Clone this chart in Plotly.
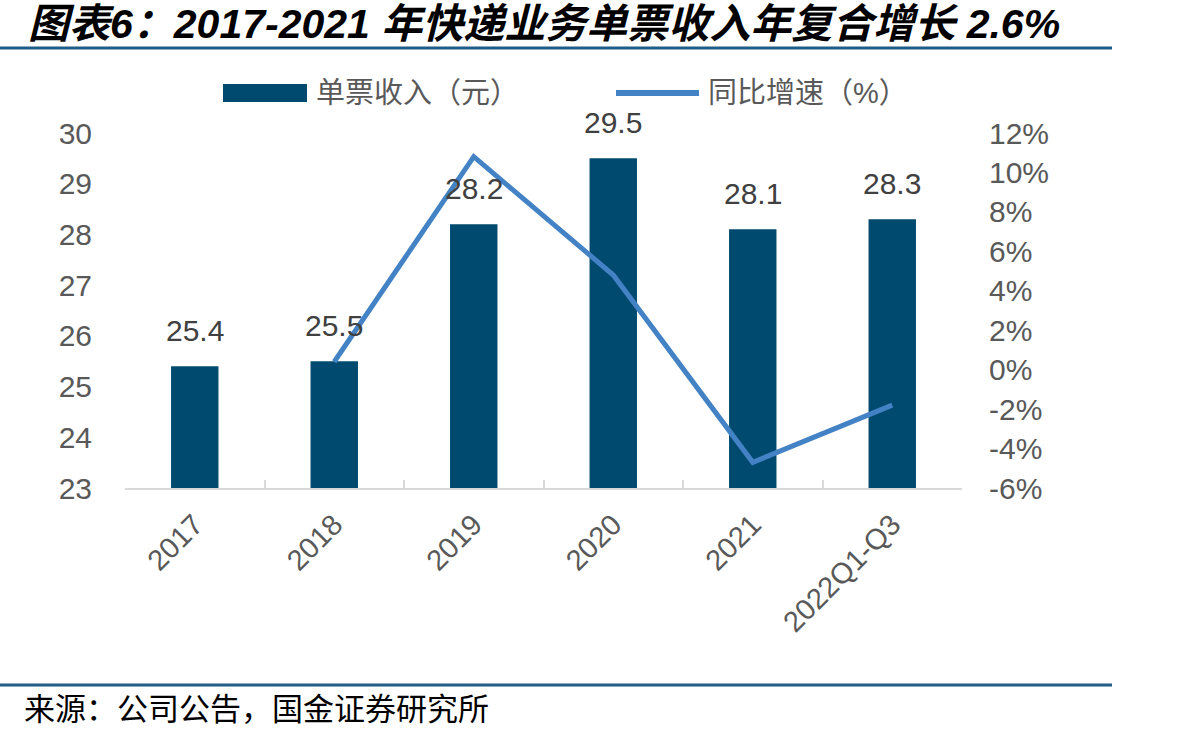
import plotly.graph_objects as go

categories = ["2017", "2018", "2019", "2020", "2021", "2022Q1-Q3"]
revenue = [25.4, 25.5, 28.2, 29.5, 28.1, 28.3]
growth_cats = ["2018", "2019", "2020", "2021", "2022Q1-Q3"]
growth = [0.4, 10.8, 4.8, -4.7, -1.8]
left_ticks = [23, 24, 25, 26, 27, 28, 29, 30]
right_tickvals = [-6, -4, -2, 0, 2, 4, 6, 8, 10, 12]
right_ticktext = ["-6%", "-4%", "-2%", "0%", "2%", "4%", "6%", "8%", "10%", "12%"]

BAR = "#004A6F"
LINE = "#4382C4"
GRAY = "#595959"
FONT = "Liberation Sans, Arial, Noto Sans CJK SC, sans-serif"
CJK = "Liberation Sans, Noto Sans CJK SC, sans-serif"

L, R, T, B = 125, 242, 133, 245
W, H = 1204, 733
PW, PH = W - L - R, H - T - B


def px(x):
    return (x - L) / PW


def py(y):
    return (H - B - y) / PH


fig = go.Figure()
fig.add_trace(go.Bar(x=categories, y=revenue, name="单票收入（元）",
                     marker=dict(color=BAR, line=dict(width=0)), width=0.34,
                     showlegend=False))
fig.add_trace(go.Scatter(x=growth_cats, y=growth, yaxis="y2", mode="lines",
                         name="同比增速（%）", line=dict(color=LINE, width=5),
                         showlegend=False))

annotations = []
for i, v in enumerate(revenue):
    annotations.append(dict(x=i, y=v, xref="x", yref="y", text=f"{v:.1f}",
                            showarrow=False, yanchor="bottom", yshift=17,
                            font=dict(size=30, color="#404040", family=FONT)))

# legend texts
annotations.append(dict(x=px(314), y=py(93), xref="paper", yref="paper",
                        text="单票收入（元）", showarrow=False, xanchor="left",
                        yanchor="middle", font=dict(size=29, color=GRAY, family=CJK)))
annotations.append(dict(x=px(706), y=py(93), xref="paper", yref="paper",
                        text="同比增速（%）", showarrow=False, xanchor="left",
                        yanchor="middle", font=dict(size=29, color=GRAY, family=CJK)))
# source
annotations.append(dict(x=px(22), y=py(706), xref="paper", yref="paper",
                        text="来源：公司公告，国金证券研究所", showarrow=False,
                        xanchor="left", yanchor="middle",
                        font=dict(size=31, color="#000000", family="Noto Sans CJK SC")))

shapes = [
    dict(type="rect", xref="paper", yref="paper", x0=px(223), x1=px(307),
         y0=py(102), y1=py(84), fillcolor=BAR, line=dict(width=0)),
    dict(type="line", xref="paper", yref="paper", x0=px(616), x1=px(699),
         y0=py(93), y1=py(93), line=dict(color=LINE, width=6)),
    dict(type="line", xref="paper", yref="paper", x0=px(0), x1=px(1112),
         y0=py(48), y1=py(48), line=dict(color="#1F5C87", width=3)),
    dict(type="line", xref="paper", yref="paper", x0=px(0), x1=px(1112),
         y0=py(685), y1=py(685), line=dict(color="#1F5C87", width=3)),
]

fig.update_layout(
    width=W, height=H,
    margin=dict(l=L, r=R, t=T, b=B, pad=0),
    paper_bgcolor="white", plot_bgcolor="white",
    title=dict(text="<b><i>图表6：2017-2021 年快递业务单票收入年复合增长 2.6%</i></b>",
               x=28 / W, xanchor="left", y=1 - 24 / H, yanchor="middle",
               font=dict(size=41, color="#000000", family="Liberation Sans, Noto Sans CJK SC")),
    xaxis=dict(type="category", range=[-0.5, 5.5], showline=True, linecolor="#D9D9D9",
               linewidth=2, ticks="inside", tickson="boundaries", ticklen=8,
               tickcolor="#D9D9D9", tickwidth=2, tickangle=-45,
               tickfont=dict(size=29, color=GRAY, family=FONT), showgrid=False,
               ticklabelstandoff=6),
    yaxis=dict(range=[23, 30], tickvals=left_ticks, showgrid=False, showline=False,
               ticks="", zeroline=False, tickfont=dict(size=30, color=GRAY, family=FONT),
               ticklabelstandoff=32),
    yaxis2=dict(range=[-6, 12], overlaying="y", side="right", tickvals=right_tickvals,
                ticktext=right_ticktext, showgrid=False, showline=False, ticks="",
                zeroline=False, tickfont=dict(size=30, color=GRAY, family=FONT),
                ticklabelstandoff=26),
    annotations=annotations,
    shapes=shapes,
    bargap=0.66,
)

fig.write_html("out.html")
